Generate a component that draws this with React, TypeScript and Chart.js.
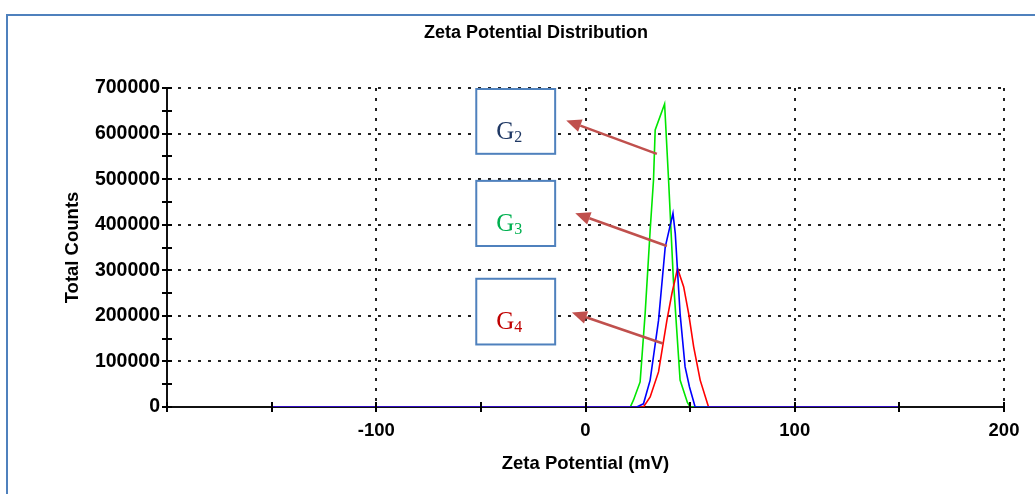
import React, { useEffect, useRef } from 'react';
import { Chart, registerables } from 'chart.js';

Chart.register(...registerables);

// ---------- text ----------
const chartTitle = 'Zeta Potential Distribution';
const xAxisTitle = 'Zeta Potential (mV)';
const yAxisTitle = 'Total Counts';

// ---------- axes ----------
const xMin = -200;
const xMax = 200;
const xStep = 50;
const yMin = 0;
const yMax = 700000;
const yStep = 50000;
const xLabelValues = [-100, 0, 100, 200];
const yLabelValues = [0, 100000, 200000, 300000, 400000, 500000, 600000, 700000];
const xGridValues = [-100, 0, 100, 200];
const yGridValues = [100000, 200000, 300000, 400000, 500000, 600000, 700000];

// ---------- series ----------
const seriesNames = ['G2', 'G3', 'G4'];
const seriesColors = ['#00e600', '#0000ff', '#ff0000'];

const g2X = [-150, 21.4, 22.9, 26.1, 28.5, 30.9, 32.5, 33.3, 37.8, 39.7, 42, 45.2, 48.7, 50, 150];
const g2Y = [0, 0, 15000, 55000, 205000, 388000, 498000, 608000, 665000, 498000, 279000, 59000, 10000, 0, 0];

const g3X = [-150, 24.5, 27.7, 30.9, 34.9, 38.1, 41.8, 42.9, 45.2, 47.6, 49.7, 52.4, 150];
const g3Y = [0, 0, 7000, 59000, 190000, 351000, 425000, 381000, 205000, 88000, 44000, 0, 0];

const g4X = [-150, 27.7, 30.9, 34.9, 38.9, 41.3, 44, 46.9, 49.3, 51.7, 54.8, 58.8, 150];
const g4Y = [0, 0, 22000, 77000, 190000, 249000, 304000, 264000, 205000, 132000, 59000, 0, 0];

// ---------- call-outs (anchored in data units) ----------
const calloutMain = ['G', 'G', 'G'];
const calloutSub = ['2', '3', '4'];
const calloutTextColors = ['#1f3864', '#00b050', '#c00000'];
const boxLeft = [-52.2, -52.2, -52.2];
const boxRight = [-14.5, -14.5, -14.5];
const boxTop = [697800, 496200, 281400];
const boxBottom = [555600, 353300, 137200];
const arrowFromX = [34.1, 38.9, 37.0];
const arrowFromY = [555600, 353300, 139400];
const arrowToX = [-9.2, -4.9, -6.5];
const arrowToY = [628800, 425200, 207500];

const SANS = "'Liberation Sans', Arial, sans-serif";
const SERIF = "'Liberation Serif', 'Times New Roman', serif";

const toPoints = (xs: number[], ys: number[]) => xs.map((x, i) => ({ x, y: ys[i] }));

const axisTicksPlugin = {
  id: 'axisTicks',
  afterDatasetsDraw(chart: any) {
    const { ctx, scales } = chart;
    const xs = scales.x;
    const ys = scales.y;
    const axisY = chart.chartArea.bottom;
    const axisX = chart.chartArea.left;
    ctx.save();
    ctx.strokeStyle = '#000';
    ctx.lineWidth = 2;
    ctx.setLineDash([]);
    xs.ticks.forEach((t: any) => {
      const px = Math.round(xs.getPixelForValue(t.value));
      ctx.beginPath();
      ctx.moveTo(px, axisY - 5);
      ctx.lineTo(px, axisY + 5);
      ctx.stroke();
    });
    ys.ticks.forEach((t: any) => {
      const py = Math.round(ys.getPixelForValue(t.value));
      ctx.beginPath();
      ctx.moveTo(axisX - 5, py);
      ctx.lineTo(axisX + 5, py);
      ctx.stroke();
    });
    ctx.restore();
  },
};

const calloutPlugin = {
  id: 'callouts',
  afterDatasetsDraw(chart: any) {
    const { ctx, scales } = chart;
    const xs = scales.x;
    const ys = scales.y;
    ctx.save();
    for (let i = 0; i < calloutMain.length; i++) {
      const l = xs.getPixelForValue(boxLeft[i]);
      const r = xs.getPixelForValue(boxRight[i]);
      const t = ys.getPixelForValue(boxTop[i]);
      const b = ys.getPixelForValue(boxBottom[i]);
      ctx.fillStyle = '#ffffff';
      ctx.fillRect(l, t, r - l, b - t);
      ctx.strokeStyle = '#4f81bd';
      ctx.lineWidth = 2;
      ctx.setLineDash([]);
      ctx.strokeRect(l, t, r - l, b - t);

      // text
      ctx.fillStyle = calloutTextColors[i];
      ctx.textBaseline = 'alphabetic';
      ctx.textAlign = 'left';
      ctx.font = `25px ${SERIF}`;
      const tx = l + 20;
      const ty = t + 50;
      ctx.fillText(calloutMain[i], tx, ty);
      const w = ctx.measureText(calloutMain[i]).width;
      ctx.font = `16px ${SERIF}`;
      ctx.fillText(calloutSub[i], tx + w, ty + 3);

      // arrow
      const fx = xs.getPixelForValue(arrowFromX[i]);
      const fy = ys.getPixelForValue(arrowFromY[i]);
      const ax = xs.getPixelForValue(arrowToX[i]);
      const ay = ys.getPixelForValue(arrowToY[i]);
      const ang = Math.atan2(ay - fy, ax - fx);
      const hl = 15;
      const hw = 6.5;
      const bx = ax - hl * Math.cos(ang);
      const by = ay - hl * Math.sin(ang);
      ctx.strokeStyle = '#c0504d';
      ctx.fillStyle = '#c0504d';
      ctx.lineWidth = 2.5;
      ctx.beginPath();
      ctx.moveTo(fx, fy);
      ctx.lineTo(bx, by);
      ctx.stroke();
      ctx.beginPath();
      ctx.moveTo(ax, ay);
      ctx.lineTo(bx + hw * Math.sin(ang), by - hw * Math.cos(ang));
      ctx.lineTo(bx - hw * Math.sin(ang), by + hw * Math.cos(ang));
      ctx.closePath();
      ctx.fill();
    }
    ctx.restore();
  },
};

export default function App() {
  const ref = useRef<HTMLCanvasElement>(null);

  useEffect(() => {
    if (!ref.current) return;
    const seriesX = [g2X, g3X, g4X];
    const seriesY = [g2Y, g3Y, g4Y];
    const drawOrder = [3, 1, 2];
    const datasets = seriesNames.map((name, i) => ({
      label: name,
      data: toPoints(seriesX[i], seriesY[i]),
      borderColor: seriesColors[i],
      backgroundColor: seriesColors[i],
      borderWidth: 1.6,
      pointRadius: 0,
      showLine: true,
      tension: 0,
      order: drawOrder[i],
    }));

    const chart = new Chart(ref.current, {
      type: 'scatter',
      data: { datasets },
      plugins: [axisTicksPlugin, calloutPlugin],
      options: {
        animation: false,
        responsive: false,
        devicePixelRatio: 1,
        layout: { padding: { left: 68, right: 31, top: 0, bottom: 0 } },
        plugins: {
          legend: { display: false },
          tooltip: { enabled: false },
          title: {
            display: true,
            text: chartTitle,
            color: '#000',
            font: { family: SANS, size: 18, weight: 'bold', lineHeight: 1.2 },
            padding: { top: 22.2, bottom: 44.2 },
          },
        },
        scales: {
          x: {
            type: 'linear',
            min: xMin,
            max: xMax,
            afterFit: (s: any) => { s.height = 87; },
            ticks: {
              stepSize: xStep,
              autoSkip: false,
              maxRotation: 0,
              padding: 13,
              color: '#000',
              font: { family: SANS, size: 18.5, weight: 'bold', lineHeight: 1.2 },
              callback: (v: any) => (xLabelValues.includes(Number(v)) ? String(v) : ''),
            },
            grid: {
              drawTicks: false,
              lineWidth: 2,
              color: (c: any) => (c.tick && xGridValues.includes(c.tick.value) ? '#222' : 'rgba(0,0,0,0)'),
            },
            border: { display: true, color: '#111', width: 2, dash: [3, 7] },
            title: {
              display: true,
              text: xAxisTitle,
              color: '#000',
              font: { family: SANS, size: 18.5, weight: 'bold', lineHeight: 1.2 },
              padding: { top: 0, bottom: 18.9 },
            },
          },
          y: {
            type: 'linear',
            min: yMin,
            max: yMax,
            afterFit: (s: any) => { s.width = 99; },
            ticks: {
              stepSize: yStep,
              autoSkip: false,
              padding: 7,
              color: '#000',
              font: { family: SANS, size: 19.5, weight: 'bold', lineHeight: 1.2 },
              callback: (v: any) => (yLabelValues.includes(Number(v)) ? String(v) : ''),
            },
            grid: {
              drawTicks: false,
              lineWidth: 2,
              color: (c: any) => (c.tick && yGridValues.includes(c.tick.value) ? '#222' : 'rgba(0,0,0,0)'),
            },
            border: { display: true, color: '#111', width: 2, dash: [3, 7] },
            title: {
              display: true,
              text: yAxisTitle,
              color: '#000',
              font: { family: SANS, size: 18.5, weight: 'bold', lineHeight: 1.2 },
              padding: { top: -6.1, bottom: 0 },
            },
          },
        },
      },
    } as any);
    return () => chart.destroy();
  }, []);

  return (
    <div style={{ position: 'absolute', left: 0, top: 0, width: 1035, height: 494, overflow: 'hidden', background: '#fff' }}>
      <div style={{ position: 'absolute', left: 6, top: 14, width: 1100, height: 600, border: '2px solid #4f81bd', boxSizing: 'border-box' }} />
      <canvas ref={ref} width={1035} height={494} style={{ position: 'absolute', left: 0, top: 0, width: 1035, height: 494 }} />
    </div>
  );
}
